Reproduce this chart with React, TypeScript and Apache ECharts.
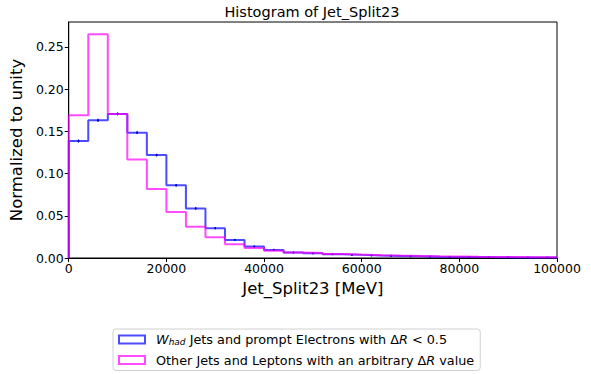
import React, { useEffect, useRef } from "react";
import * as echarts from "echarts";

// Histogram binning: 25 bins of 4000 MeV from 0 to 100000
const binEdges = [
  0, 4000, 8000, 12000, 16000, 20000, 24000, 28000, 32000, 36000, 40000, 44000, 48000,
  52000, 56000, 60000, 64000, 68000, 72000, 76000, 80000, 84000, 88000, 92000, 96000, 100000,
];

// W_had jets matched to prompt electrons (dR < 0.5), normalised bin contents
const whadValues = [
  0.1385, 0.163, 0.1706, 0.1484, 0.1218, 0.0861, 0.0587, 0.0353, 0.0214, 0.0135, 0.0095,
  0.0065, 0.0055, 0.0045, 0.0037, 0.003, 0.0025, 0.002, 0.0016, 0.0013, 0.0011, 0.0009,
  0.0007, 0.0006, 0.0005,
];
const whadErrors = [
  0.0012, 0.0013, 0.0013, 0.0012, 0.0011, 0.0009, 0.0008, 0.0006, 0.0005, 0.0004, 0.0003,
  0.0003, 0.0003, 0.0002, 0.0002, 0.0002, 0.0002, 0.0001, 0.0001, 0.0001, 0.0001, 0.0001,
  0.0001, 0.0001, 0.0001,
];

// Other jets and leptons, any dR
const otherValues = [
  0.169, 0.265, 0.1706, 0.1167, 0.0817, 0.0544, 0.0369, 0.0246, 0.0163, 0.0119, 0.0087,
  0.0065, 0.0058, 0.0048, 0.004, 0.0034, 0.0029, 0.0025, 0.0021, 0.0018, 0.0015, 0.0013,
  0.0011, 0.0009, 0.0008,
];

const xTicks = [0, 20000, 40000, 60000, 80000, 100000];
const yTicks = [0, 0.05, 0.1, 0.15, 0.2, 0.25];

const whadName = "W_had Jets and prompt Electrons with dR < 0.5";
const otherName = "Other Jets and Leptons with an arbitrary dR value";

const FONT = "DejaVu Sans";

// Build the outline of a step histogram (closed to zero at both ends)
function stepOutline(values: number[]): number[][] {
  const pts: number[][] = [[binEdges[0], 0]];
  values.forEach((v, i) => {
    pts.push([binEdges[i], v]);
    pts.push([binEdges[i + 1], v]);
  });
  pts.push([binEdges[binEdges.length - 1], 0]);
  return pts;
}

export default function App() {
  const ref = useRef<HTMLDivElement>(null);

  useEffect(() => {
    if (!ref.current) return;
    const chart = echarts.init(ref.current, null, { renderer: "svg" });

    const blue = "rgba(0,0,255,0.7)";
    const magenta = "rgba(255,0,255,0.7)";

    const errData = whadValues.map((v, i) => [
      (binEdges[i] + binEdges[i + 1]) / 2,
      v,
      whadErrors[i],
    ]);

    chart.setOption({
      animation: false,
      backgroundColor: "#fff",
      title: {
        text: "Histogram of Jet_Split23",
        left: 312,
        textAlign: "center",
        top: 4,
        padding: 0,
        textStyle: { fontFamily: FONT, fontSize: 14.5, fontWeight: "normal", color: "#000" },
      },
      grid: {
        left: 67,
        right: 34,
        top: 22,
        bottom: 116,
        show: true,
        borderColor: "#000",
        borderWidth: 1,
        backgroundColor: "transparent",
      },
      xAxis: {
        type: "value",
        min: 0,
        max: 100000,
        interval: 20000,
        name: "Jet_Split23 [MeV]",
        nameLocation: "middle",
        nameGap: 19,
        nameTextStyle: { fontFamily: FONT, fontSize: 16.5, color: "#000" },
        axisLine: { show: true, onZero: false, lineStyle: { color: "#000", width: 1 } },
        axisTick: { show: true, length: 4, lineStyle: { color: "#000" }, customValues: xTicks },
        axisLabel: {
          fontFamily: FONT,
          fontSize: 12.5,
          color: "#000",
          margin: 4,
          customValues: xTicks,
          formatter: (v: number) => String(v),
        },
        splitLine: { show: false },
      },
      yAxis: {
        type: "value",
        min: 0,
        max: 0.2794,
        name: "Normalized to unity",
        nameLocation: "middle",
        nameGap: 33,
        nameTextStyle: { fontFamily: FONT, fontSize: 16.5, color: "#000" },
        axisLine: { show: true, onZero: false, lineStyle: { color: "#000", width: 1 } },
        axisTick: { show: true, length: 4, lineStyle: { color: "#000" }, customValues: yTicks },
        axisLabel: {
          fontFamily: FONT,
          fontSize: 12.5,
          color: "#000",
          margin: 5,
          customValues: yTicks,
          formatter: (v: number) => v.toFixed(2),
        },
        splitLine: { show: false },
      },
      legend: {
        data: [whadName, otherName],
        orient: "vertical",
        left: 113,
        top: 329,
        padding: [4, 6, 4, 5],
        itemGap: 7,
        itemWidth: 26,
        itemHeight: 8,
        icon: "rect",
        backgroundColor: "#fff",
        borderColor: "#d0d0d0",
        borderWidth: 1,
        borderRadius: 3,
        textStyle: {
          fontFamily: FONT,
          fontSize: 12.8,
          color: "#000",
          padding: [0, 0, 0, 6],
          rich: {
            it: { fontFamily: FONT, fontSize: 12.8, fontStyle: "italic", color: "#000" },
            sub: {
              fontFamily: FONT,
              fontSize: 9,
              fontStyle: "italic",
              color: "#000",
              padding: [5, 0, 0, 0],
            },
          },
        },
        formatter: (name: string) =>
          name === whadName
            ? "{it|W}{sub|had} Jets and prompt Electrons with Δ{it|R} < 0.5"
            : "Other Jets and Leptons with an arbitrary Δ{it|R} value",
      },
      series: [
        {
          name: whadName,
          type: "line",
          data: stepOutline(whadValues),
          showSymbol: false,
          symbol: "none",
          lineStyle: { color: blue, width: 2 },
          itemStyle: { color: "rgba(0,0,0,0)", borderColor: blue, borderWidth: 2 },
          z: 2,
        },
        {
          name: "whad-errors",
          type: "custom",
          data: errData,
          z: 3,
          renderItem: (_params: any, api: any) => {
            const x = api.value(0);
            const v = api.value(1);
            const e = api.value(2);
            const top = api.coord([x, v + e]);
            const bot = api.coord([x, v - e]);
            const mid = api.coord([x, v]);
            return {
              type: "group",
              children: [
                {
                  type: "line",
                  shape: { x1: top[0], y1: top[1] - 0.5, x2: bot[0], y2: bot[1] + 0.5 },
                  style: { stroke: "#0000c8", lineWidth: 1 },
                },
                {
                  type: "circle",
                  shape: { cx: mid[0], cy: mid[1], r: 1 },
                  style: { fill: "#0000c8" },
                },
              ],
            };
          },
        },
        {
          name: otherName,
          type: "line",
          data: stepOutline(otherValues),
          showSymbol: false,
          symbol: "none",
          lineStyle: { color: magenta, width: 2 },
          itemStyle: { color: "rgba(0,0,0,0)", borderColor: magenta, borderWidth: 2 },
          z: 4,
        },
      ],
    });

    return () => chart.dispose();
  }, []);

  return <div ref={ref} style={{ width: 591, height: 374, position: "absolute", left: 0, top: 0 }} />;
}
